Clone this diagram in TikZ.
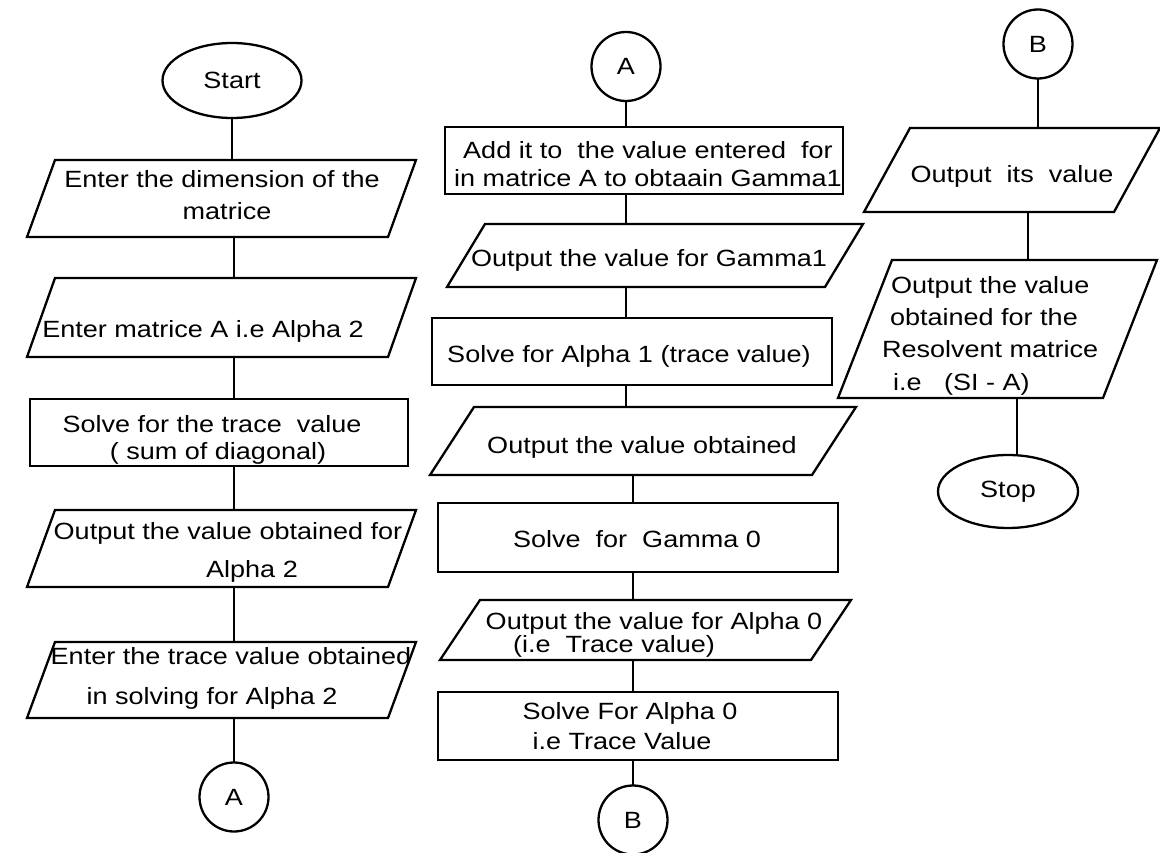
\documentclass[tikz,border=0pt]{standalone}
\usepackage{fontspec}
\setmainfont{Liberation Sans}[FakeStretch=1.15]
\usetikzlibrary{shapes.geometric}
\begin{document}
\begin{tikzpicture}[x=1pt,y=-1pt,line width=2.3pt,
  every node/.style={font=\fontsize{23.5}{32}\selectfont,inner sep=0pt,outer sep=0pt},
  rbox/.style={draw,rectangle},
  pbox/.style={rectangle},
  conn/.style={draw,circle,minimum size=69pt},
  term/.style={draw,ellipse},
  txt/.style={align=center},
  txtl/.style={align=left,anchor=west},
  lsp/.style={font=\fontsize{23.5}{#1}\selectfont},
  link/.style={line width=2.3pt}]
\fill[white] (0,0) rectangle (1160,853);
\useasboundingbox (0,0) rectangle (1160,853);

% ---------- column 1 ----------
\node[term,minimum width=139pt,minimum height=75pt] (start) at (232,80.5) {Start};
\node[pbox,minimum width=361pt,minimum height=77pt] (p1) at (221.5,198.5) {};
\node[pbox,minimum width=361pt,minimum height=79pt] (p2) at (221.5,317.5) {};
\node[rbox,minimum width=378pt,minimum height=67pt] (r3) at (219,432.5) {};
\node[pbox,minimum width=361pt,minimum height=77pt] (p4) at (221.5,548.5) {};
\node[pbox,minimum width=361pt,minimum height=76pt] (p5) at (221.5,680) {};
\node[conn] (A1) at (234,797) {A};

\node[txt] (t1) at (222,195.4) {Enter the dimension of the\\\hspace*{10pt}matrice};
\node[txt] (t2) at (203,331.9) {Enter matrice A i.e Alpha 2};
\node[txt,lsp=27] (t3) at (212,440.4) {Solve for the trace~ value\\\hspace*{12pt}( sum of diagonal)};
\node[txt,lsp=38] (t4) at (228,552.9) {Output the value obtained for\\\hspace*{48pt}Alpha 2};
\node[txt,lsp=40] (t5) at (231,678.9) {Enter the trace value obtained\\in solving for Alpha 2\hspace*{38pt}};

% ---------- column 2 ----------
\node[conn] (A2) at (626,66.5) {A};
\node[rbox,minimum width=398pt,minimum height=67pt] (r6) at (644,160.5) {};
\node[pbox,minimum width=378pt,minimum height=63pt] (p7) at (655,255.5) {};
\node[rbox,minimum width=400pt,minimum height=67pt] (r8) at (632,351.5) {};
\node[pbox,minimum width=382pt,minimum height=68pt] (p9) at (643,441) {};
\node[rbox,minimum width=400pt,minimum height=69pt] (r10) at (638,537.5) {};
\node[pbox,minimum width=371pt,minimum height=60pt] (p11) at (645.5,630) {};
\node[rbox,minimum width=400pt,minimum height=68pt] (r12) at (638,726) {};
\node[conn] (B2) at (633,820) {B};

\node[txt,lsp=28] (t6) at (648,164.4) {Add it to~ the value entered~ for\\in matrice A to obtaain Gamma1};
\node[txt] (t7) at (649,260.9) {Output the value for Gamma1};
\node[txt] (t8) at (629,356.9) {Solve for Alpha 1 (trace value)};
\node[txt] (t9) at (642,447) {Output the value obtained};
\node[txt] (t10) at (637,539.4) {Solve~ for~ Gamma 0};
\node[txt,lsp=23] (t11) at (654,635.4) {Output the value for Alpha 0\\(i.e~ Trace value)\hspace*{80pt}};
\node[txt,lsp=30] (t12) at (626,726.4) {\hspace*{8pt}Solve For Alpha 0\\i.e Trace Value\hspace*{8pt}};

% ---------- column 3 ----------
\node[conn] (B3) at (1038,44) {B};
\node[pbox,minimum width=250pt,minimum height=84pt] (p13) at (1012,170) {};
\node[pbox,minimum width=265pt,minimum height=138pt] (p14) at (997.5,329) {};
\node[term,minimum width=140pt,minimum height=73pt] (stop) at (1008,491.5) {Stop};

\node[txt] (t13) at (1012,176.9) {Output~ its~ value};
\node[txtl,lsp=32.3] (t14) at (882,335.5) {\hspace*{9pt}Output the value\\\hspace*{8pt}obtained for the\\Resolvent matrice\\\hspace*{11pt}i.e~~ (SI - A)};

% ---------- parallelogram outlines ----------
\foreach \n/\s in {p1/14,p2/14,p4/14,p5/14,p7/19,p9/22,p11/20,p13/23,p14/27}{
  \draw[line join=miter] ([xshift=\s pt]\n.north west) -- ([xshift=\s pt]\n.north east)
    -- ([xshift=-\s pt]\n.south east) -- ([xshift=-\s pt]\n.south west) -- cycle;
}

% ---------- connectors ----------
\draw[link] (start.south) -- (start.south |- p1.north);
\draw[link] (p1.south -| A1) -- (p2.north -| A1);
\draw[link] (p2.south -| A1) -- (r3.north -| A1);
\draw[link] (r3.south -| A1) -- (p4.north -| A1);
\draw[link] (p4.south -| A1) -- (p5.north -| A1);
\draw[link] (p5.south -| A1) -- (A1.north);

\draw[link] (A2.south) -- (r6.north -| A2);
\draw[link] (r6.south -| A2) -- (p7.north -| A2);
\draw[link] (p7.south -| A2) -- (r8.north -| A2);
\draw[link] (r8.south -| A2) -- (p9.north -| A2);
\draw[link] (p9.south -| B2) -- (r10.north -| B2);
\draw[link] (r10.south -| B2) -- (p11.north -| B2);
\draw[link] (p11.south -| B2) -- (r12.north -| B2);
\draw[link] (r12.south -| B2) -- (B2.north);

\draw[link] (B3.south) -- (p13.north -| B3);
\draw[link] ([xshift=16pt]p13.south) -- ([xshift=16pt]p13.south |- p14.north);
\draw[link] ([xshift=9pt]stop.north |- p14.south) -- ([xshift=9pt,yshift=-1pt]stop.north);
\end{tikzpicture}
\end{document}
